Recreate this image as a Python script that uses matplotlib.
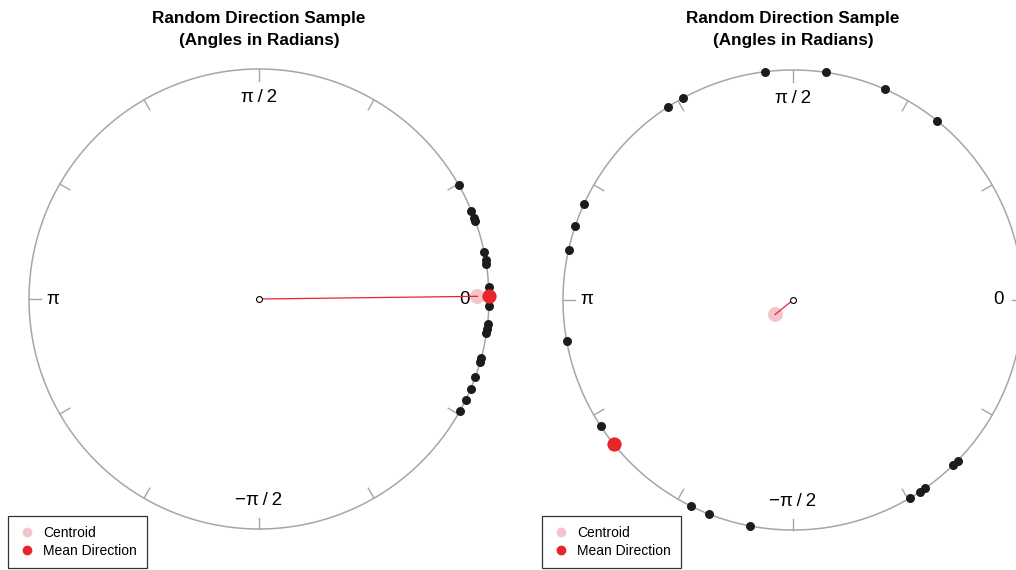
"""
Random direction samples on the unit circle
"""
import numpy as np
import matplotlib
matplotlib.use("Agg")
import matplotlib.pyplot as plt
from matplotlib.lines import Line2D

plt.rcParams['font.family'] = ['Liberation Sans', 'DejaVu Sans']

# sample angles in degrees
left_deg = [29.8, 22.6, 20.6, 19.9, 11.8, 9.7, 8.7, 2.9, -1.7, -6.2, -7.6,
            -8.6, -14.9, -16.0, -19.9, -23.0, -26.0, -29.0]
right_deg = [97.0, 81.7, 66.3, 51.1, 118.5, 123.0, 155.2, 161.2, 167.4,
             190.3, 213.2, 243.8, 248.5, 259.2, -59.5, -56.5, -54.9, -45.8,
             -44.3]

# centroid (angle deg, resultant length) and mean direction (deg)
left_centroid = (0.7, 0.95)
right_centroid = (219.0, 0.10)
left_mean = 0.7
right_mean = 218.8

tick_labels = {0: '0', 90: 'π\u2009/\u20092', 180: 'π',
               270: '\u2212π\u2009/\u20092'}

GRAY = '#a3a6ad'
RED = '#e8252a'
PINK = '#f5c3cb'
DOT = '#1c1c1c'

W, H = 1016, 570
R = 230


def polar_xy(deg, r=1.0):
    a = np.deg2rad(np.asarray(deg, dtype=float))
    return r * np.cos(a), r * np.sin(a)


def draw_circle(fig, cx, cy, angles, centroid, mean):
    ax = fig.add_axes([(cx - R) / W, (H - cy - R) / H, 2 * R / W, 2 * R / H])
    ax.set_xlim(-1, 1)
    ax.set_ylim(-1, 1)
    ax.set_aspect('equal')
    ax.axis('off')

    t = np.linspace(0, 2 * np.pi, 400)
    ax.plot(np.cos(t), np.sin(t), color=GRAY, lw=1.1, clip_on=False)
    for d in range(0, 360, 30):
        x0, y0 = polar_xy(d, 0.95)
        x1, y1 = polar_xy(d, 1.0)
        ax.plot([x0, x1], [y0, y1], color=GRAY, lw=1.0, clip_on=False)
    for d, lab in tick_labels.items():
        r = 0.895 if d in (0, 180) else 0.875
        x, y = polar_xy(d, r)
        ax.text(x, y, lab, ha='center', va='center', fontsize=13.5)

    x, y = polar_xy(angles)
    ax.scatter(x, y, s=42, color=DOT, zorder=3, clip_on=False, lw=0)

    cxp, cyp = polar_xy(centroid[0], centroid[1])
    ax.plot([0, cxp], [0, cyp], color=RED, lw=0.9, zorder=4)
    ax.scatter([cxp], [cyp], s=115, color=PINK, zorder=2, lw=0)
    mx, my = polar_xy(mean)
    ax.scatter([mx], [my], s=105, color=RED, zorder=5, lw=0, clip_on=False)
    ax.scatter([0], [0], s=18, facecolor='white', edgecolor='black',
               lw=0.8, zorder=6)

    fig.text(cx / W, 1 - 18 / H, 'Random Direction Sample',
             ha='center', va='center', fontsize=12.3, weight='bold')
    fig.text(cx / W, 1 - 40 / H, '(Angles in Radians)',
             ha='center', va='center', fontsize=12.3, weight='bold')

    handles = [
        Line2D([], [], marker='o', ls='', color=PINK, markersize=6),
        Line2D([], [], marker='o', ls='', color=RED, markersize=6),
    ]
    lx = (cx - 251) / W
    leg = fig.legend(handles, ['Centroid', 'Mean Direction'],
                     loc='lower left', bbox_to_anchor=(lx, 2 / H),
                     borderaxespad=0, fontsize=10, frameon=True,
                     fancybox=False, handletextpad=0.55, handlelength=1.3,
                     borderpad=0.7, labelspacing=0.3)
    leg.get_frame().set_edgecolor('black')
    leg.get_frame().set_linewidth(0.9)


fig = plt.figure(figsize=(W / 100, H / 100), dpi=100)
draw_circle(fig, 259, 299, left_deg, left_centroid, left_mean)
draw_circle(fig, 793, 300, right_deg, right_centroid, right_mean)
fig.savefig('out.png', dpi=100)
